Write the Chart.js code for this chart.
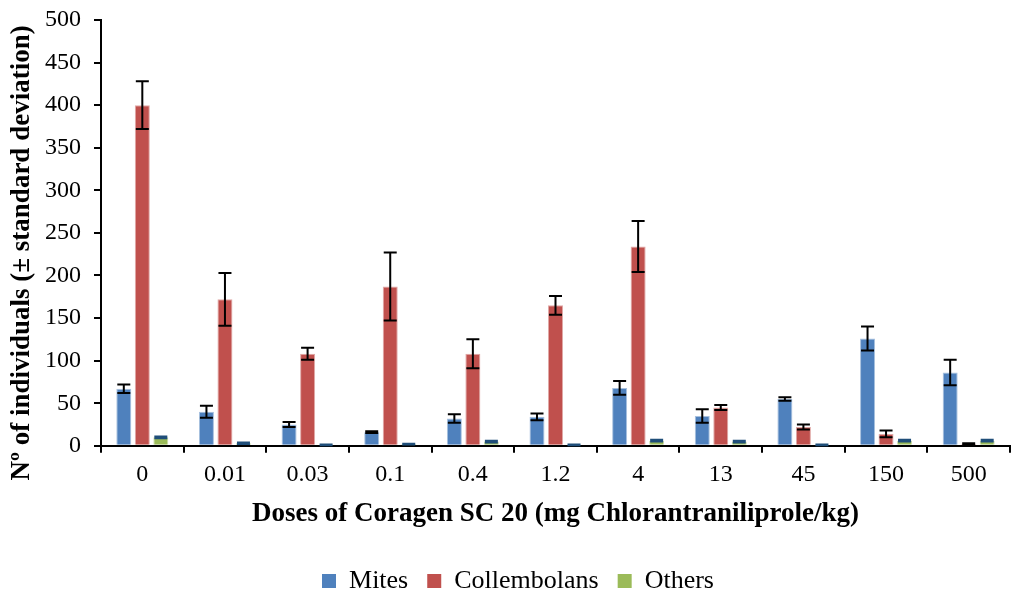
<!DOCTYPE html>
<html>
<head>
<meta charset="utf-8">
<script src="https://cdn.jsdelivr.net/npm/chart.js@4/dist/chart.umd.min.js"></script>
<style>
  body { margin: 0; background: #fff; }
</style>
</head>
<body>
<canvas id="grafico" width="1012" height="595"></canvas>
<script>
// ===== DATA =====
const doses = ['0', '0.01', '0.03', '0.1', '0.4', '1.2', '4', '13', '45', '150', '500'];

const mites = [67, 40, 25, 16, 32, 34, 68, 35, 55, 126, 86];
const mitesSd = [5, 7, 3, 1, 5, 4, 8, 8, 2, 14, 15];

const collembolans = [400, 172, 108, 187, 108, 165, 234, 45, 22, 14, 2];
const collembolansSd = [28, 31, 7, 40, 17, 11, 30, 3, 3, 4, 1];

const others = [10, 3, 1, 2, 5, 1, 6, 5, 1, 6, 6];
const othersSd = [1, 1, 0.5, 0.5, 1, 0.5, 1, 1, 0.5, 1, 1];

const yTicks = [0, 50, 100, 150, 200, 250, 300, 350, 400, 450, 500];
const yTitle = 'Nº of individuals (± standard deviation)';

const serif = "'Liberation Serif', 'Times New Roman', serif";
Chart.defaults.font.family = serif;
Chart.defaults.color = '#000';

// ===== ERROR BARS =====
const errorBars = {
  id: 'errorBars',
  afterDatasetsDraw(chart) {
    const ctx = chart.ctx;
    const y = chart.scales.y;
    chart.data.datasets.forEach((ds, i) => {
      const meta = chart.getDatasetMeta(i);
      if (meta.hidden) return;
      meta.data.forEach((bar, j) => {
        const v = ds.data[j];
        const e = ds.sd[j];
        const top = y.getPixelForValue(v + e);
        const bot = y.getPixelForValue(Math.max(0, v - e));
        const half = ds.capHalf;
        ctx.save();
        ctx.strokeStyle = ds.errColor;
        ctx.lineWidth = 2;
        ctx.beginPath();
        ctx.moveTo(bar.x, top);
        ctx.lineTo(bar.x, bot);
        ctx.moveTo(bar.x - half, top);
        ctx.lineTo(bar.x + half, top);
        ctx.moveTo(bar.x - half, bot);
        ctx.lineTo(bar.x + half, bot);
        ctx.stroke();
        ctx.restore();
      });
    });
  }
};

// ===== Y TITLE (a bit below the plot centre, like the original) =====
const yTitlePlugin = {
  id: 'yTitlePlugin',
  afterDraw(chart) {
    const ctx = chart.ctx;
    const area = chart.chartArea;
    ctx.save();
    ctx.translate(22, (area.top + area.bottom) / 2 + 20);
    ctx.rotate(-Math.PI / 2);
    ctx.font = 'bold 27px ' + serif;
    ctx.fillStyle = '#000';
    ctx.textAlign = 'center';
    ctx.textBaseline = 'middle';
    ctx.fillText(yTitle, 0, 0);
    ctx.restore();
  }
};

// ===== CHART =====
new Chart(document.getElementById('grafico'), {
  type: 'bar',
  data: {
    labels: doses,
    datasets: [
      {
        label: 'Mites', data: mites, sd: mitesSd,
        backgroundColor: '#4F81BD', borderColor: '#A7C0DE', borderWidth: 1,
        errColor: '#000', capHalf: 6.5
      },
      {
        label: 'Collembolans', data: collembolans, sd: collembolansSd,
        backgroundColor: '#C0504D', borderColor: '#E0A8A6', borderWidth: 1,
        errColor: '#000', capHalf: 6.5
      },
      {
        label: 'Others', data: others, sd: othersSd,
        backgroundColor: '#9BBB59', borderColor: '#CDDDAC', borderWidth: 1,
        errColor: '#1F4E79', capHalf: 6.5
      }
    ]
  },
  options: {
    responsive: false,
    animation: false,
    devicePixelRatio: 1,
    layout: { padding: { left: 26, right: 2, top: 20, bottom: -9 } },
    datasets: {
      bar: { categoryPercentage: 0.672, barPercentage: 0.81 }
    },
    plugins: {
      legend: {
        position: 'bottom',
        labels: {
          font: { family: serif, size: 26 },
          color: '#000',
          boxWidth: 14,
          boxHeight: 14,
          padding: 19,
          generateLabels(chart) {
            return chart.data.datasets.map((ds, i) => ({
              text: ds.label,
              fillStyle: ds.backgroundColor,
              strokeStyle: ds.backgroundColor,
              fontColor: '#000',
              lineWidth: 0,
              datasetIndex: i
            }));
          }
        }
      },
      tooltip: { enabled: false }
    },
    scales: {
      x: {
        grid: { display: true, drawOnChartArea: false, tickLength: 7, color: '#000', lineWidth: 2, offset: true },
        border: { display: true, color: '#000', width: 2 },
        ticks: { font: { size: 24 }, color: '#000', padding: 8 },
        title: {
          display: true,
          text: 'Doses of Coragen SC 20 (mg Chlorantraniliprole/kg)',
          font: { size: 27, weight: 'bold' },
          color: '#000',
          padding: { top: 0, bottom: 19 }
        }
      },
      y: {
        min: 0,
        max: 500,
        afterBuildTicks(axis) { axis.ticks = yTicks.map(v => ({ value: v })); },
        afterFit(axis) {
          axis.width = 75;
          axis.paddingTop = 0;
          axis.paddingBottom = 0;
        },
        grid: { display: true, drawOnChartArea: false, tickLength: 7, color: '#000', lineWidth: 2 },
        border: { display: true, color: '#000', width: 2 },
        ticks: { font: { size: 24 }, color: '#000', padding: 13 },
        title: { display: false }
      }
    }
  },
  plugins: [errorBars, yTitlePlugin]
});
</script>
</body>
</html>
